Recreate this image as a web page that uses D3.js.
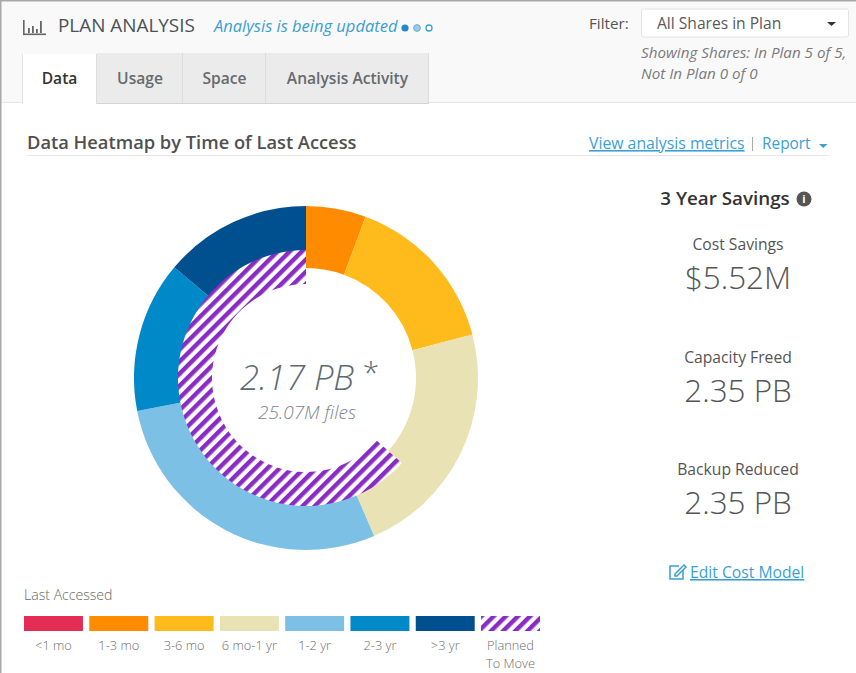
<!DOCTYPE html>
<html><head><meta charset="utf-8">
<script src="https://cdnjs.cloudflare.com/ajax/libs/d3/7.8.5/d3.min.js"></script>
<style>html,body{margin:0;padding:0;background:#fff;overflow:hidden}svg{display:block}text{font-family:"Open Sans",sans-serif}</style>
</head><body><svg id="c" width="856" height="673"></svg>
<script>
const categories=["<1 mo","1-3 mo","3-6 mo","6 mo-1 yr","1-2 yr","2-3 yr",">3 yr"];
const values=[0,0.122,0.332,0.49,0.616,0.308,0.301];
const colors=["#e32d55","#ff8c00","#ffbb1c","#e9e2b4","#7cc0e6","#0089c9","#00508f"];
const plannedSplit=[0.793,1.377];
const tabs=["Data","Usage","Space","Analysis Activity"];
const tabEdges=[22,97,183,266,429];
const savingsLabels=["Cost Savings","Capacity Freed","Backup Reduced"];
const savingsValues=["$5.52M","2.35 PB","2.35 PB"];
const svg=d3.select("#c");
const T=(s,x,y,size,fill,o={})=>{const t=svg.append("text").attr("x",x).attr("y",y).attr("font-size",size).attr("fill",fill).text(s);
 if(o.anchor)t.attr("text-anchor",o.anchor);if(o.style)t.attr("font-style",o.style);if(o.weight)t.attr("font-weight",o.weight);if(o.deco)t.attr("text-decoration",o.deco);if(o.ls)t.attr("letter-spacing",o.ls);return t;};
const R=(x,y,w,h,f,s)=>{const r=svg.append("rect").attr("x",x).attr("y",y).attr("width",w).attr("height",h).attr("fill",f);if(s)r.attr("stroke",s);return r;};
const defs=svg.append("defs");
const p=defs.append("pattern").attr("id","hatch").attr("patternUnits","userSpaceOnUse").attr("width",8.6).attr("height",8.6).attr("patternTransform","rotate(45)");
p.append("rect").attr("width",8.6).attr("height",8.6).attr("fill","#fff");
p.append("rect").attr("width",4.4).attr("height",8.6).attr("fill","#8a2bc4");
// page
R(0,0,856,673,"#fff");
R(0,0,856,102,"#f9f9f9");
R(0,102,856,1,"#e6e6e6");
R(0,0,856,1.5,"#a8a8a8");R(0,0,1.5,673,"#a8a8a8");
// header icon
R(23,20,1.6,14,"#666");R(23,33.5,23,1.6,"#666");
[[28,28,5],[32,26,7],[36,29,4],[40,21,12]].forEach(d=>R(d[0],d[1],1.8,d[2],"#666"));
T("PLAN ANALYSIS",58,32,18.9,"#4a5257");
T("Analysis is being updated",214,32,16.5,"#3b9fd4",{style:"italic"});
svg.append("circle").attr("cx",405).attr("cy",28).attr("r",3.6).attr("fill","#1f8ac6");
svg.append("circle").attr("cx",417).attr("cy",28).attr("r",3.4).attr("fill","#9cc8e2").attr("stroke","#6fb0d6");
svg.append("circle").attr("cx",429).attr("cy",28).attr("r",3).attr("fill","#fff").attr("stroke","#3b9fd4").attr("stroke-width",1.3);
// tabs
tabs.forEach((t,i)=>{const x0=tabEdges[i],x1=tabEdges[i+1];
 if(i==0){R(x0,54,x1-x0,50,"#fff");R(x0,54,1,50,"#e2e2e2");R(x1-1,54,1,50,"#dcdcdc");}
 else{R(x0,53,x1-x0,51,"#ebebeb");R(x1-1,53,1,51,"#dcdcdc");R(x0,103,x1-x0,1,"#d4d4d4");}
 T(t,(x0+x1)/2,84,15.6,i==0?"#333":"#666a6e",{anchor:"middle",weight:600});});
// filter
T("Filter:",589,29,15.2,"#555");
R(641.5,9,207,28,"#fff","#e4e4e4").attr("rx",2);
T("All Shares in Plan",657,29,15.6,"#5a5a5a");
svg.append("path").attr("d","M827 22h9l-4.5 4z").attr("fill","#333");
T("Showing Shares: In Plan 5 of 5,",641,58,15.2,"#7b7b7b",{style:"italic"});
T("Not In Plan 0 of 0",641,79,15.2,"#7b7b7b",{style:"italic"});
// section title
T("Data Heatmap by Time of Last Access",27,149,18.3,"#505050",{weight:600});
R(27,155,802,1,"#e6e6e6");
T("View analysis metrics",589,149,15.8,"#3a9fd6",{deco:"underline"});
R(752,137,1,14,"#aaa");
T("Report",762,149,15.4,"#3a9fd6");
svg.append("path").attr("d","M819 144h8.5l-4.25 4z").attr("fill","#3a9fd6");
// donut
const cx=306,cy=378;
const g=svg.append("g").attr("transform",`translate(${cx},${cy})`);
const pie=d3.pie().sort(null);
const arc=d3.arc().innerRadius(110).outerRadius(172);
g.selectAll("path.s").data(pie(values)).join("path").attr("class","s").attr("d",arc).attr("fill",(d,i)=>colors[i]);
const arc2=d3.arc().innerRadius(94).outerRadius(128);
const pl=pie(plannedSplit)[1];
svg.append("path").attr("transform",`translate(${cx},${cy})`).attr("d",arc2(pl)).attr("fill","url(#hatch)");
T("2.17 PB",297,390,34.6,"#5d6a72",{anchor:"middle",style:"italic"}).attr("font-weight",300);
T("*",371,383,30,"#5d6a72",{anchor:"middle"}).attr("font-weight",300);
T("25.07M files",307,419,19,"#7d868b",{anchor:"middle",style:"italic"}).attr("font-weight",300);
// savings
T("3 Year Savings",725,205,18.8,"#333",{anchor:"middle",weight:600});
svg.append("circle").attr("cx",804).attr("cy",199).attr("r",7.5).attr("fill","#555");
T("i",804,203,11,"#fff",{anchor:"middle",weight:700});
const ys=[250,363,475],vy=[289,402,514];
savingsLabels.forEach((l,i)=>{T(l,738,ys[i],15.7,"#555",{anchor:"middle"});T(savingsValues[i],738,vy[i],31.4,"#555",{anchor:"middle"}).attr("font-weight",300);});
svg.append("g").attr("fill","none").attr("stroke","#3a9fd6").attr("stroke-width",1.5).call(s=>{s.append("path").attr("d","M679 566h-9v13h13v-9");s.append("path").attr("d","M675 574l9-9 2 2-9 9h-2z");});
T("Edit Cost Model",690,578,15.7,"#3a9fd6",{deco:"underline"});
// legend
T("Last Accessed",24,600,14.1,"#666").attr("font-weight",300);
const lx=d3.scaleBand().domain(d3.range(8)).range([24,540]).paddingInner(0.097).paddingOuter(0);
const labels=categories.concat(["Planned"]);
labels.forEach((c,i)=>{const x=lx(i),w=lx.bandwidth();
 R(x,616,w,15,i<7?colors[i]:"url(#hatch)");
 T(c,x+w/2,650,12.8,"#6e6e6e",{anchor:"middle"}).attr("font-weight",300);});
T("To Move",lx(7)+lx.bandwidth()/2,668,12.8,"#6e6e6e",{anchor:"middle"}).attr("font-weight",300);
</script></body></html>
